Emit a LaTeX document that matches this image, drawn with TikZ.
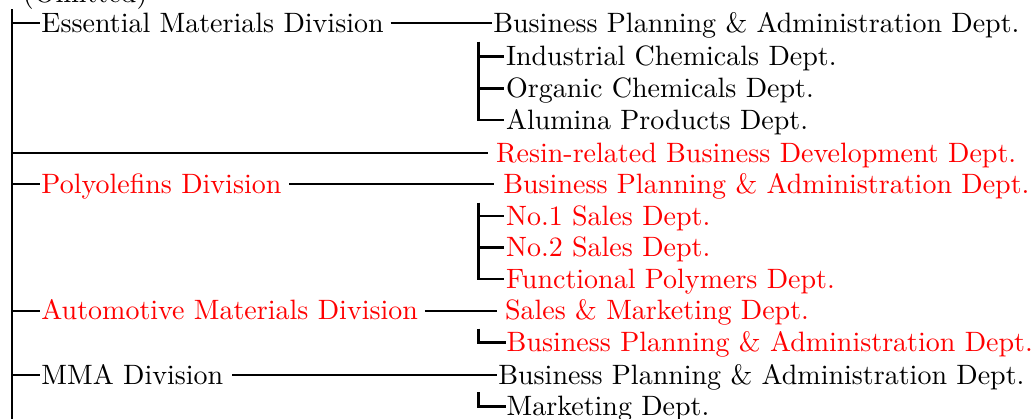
\documentclass[tikz,border=0pt]{standalone}
\usepackage{fontspec}
\setmainfont{lmroman10-regular}[Extension=.otf]
\definecolor{txtred}{RGB}{255,0,0}
\tikzset{
  lbl/.style={anchor=base west, inner sep=0pt, outer sep=0pt, font=\fontsize{28}{30}\selectfont},
  redlbl/.style={lbl, text=txtred},
  conn/.style={line width=2.2pt, line cap=butt, line join=miter},
}
\begin{document}
\begin{tikzpicture}[x=1pt,y=-1pt]
\useasboundingbox (0,0) rectangle (1034,418);
\clip (0,0) rectangle (1034,418);
% row lines
\coordinate (r1) at (0,23.3);
\coordinate (r2) at (0,56.5);
\coordinate (r3) at (0,88.5);
\coordinate (r4) at (0,120);
\coordinate (r5) at (0,153);
\coordinate (r6) at (0,184.3);
\coordinate (r7) at (0,216);
\coordinate (r8) at (0,247.5);
\coordinate (r9) at (0,279);
\coordinate (r10) at (0,310.7);
\coordinate (r11) at (0,342.5);
\coordinate (r12) at (0,375);
\coordinate (r13) at (0,406.5);
% texts
\node[lbl] (omit) at (23,2.5) {(Omitted)};
\node[lbl] (ess) at (41.5,32.3) {Essential Materials Division};
\node[lbl] (bpa1) at (493.3,32.3) {Business Planning \& Administration Dept.};
\node[lbl] (ind) at (506,65.5) {Industrial Chemicals Dept.};
\node[lbl] (org) at (506,97.5) {Organic Chemicals Dept.};
\node[lbl] (alu) at (506,129) {Alumina Products Dept.};
\node[redlbl] (resin) at (496,162) {Resin-related Business Development Dept.};
\node[redlbl] (poly) at (41.5,193.3) {Polyolefins Division};
\node[redlbl] (bpa2) at (503.3,193.3) {Business Planning \& Administration Dept.};
\node[redlbl] (no1) at (506,225) {No.1 Sales Dept.};
\node[redlbl] (no2) at (506,256.5) {No.2 Sales Dept.};
\node[redlbl] (fun) at (506,288) {Functional Polymers Dept.};
\node[redlbl] (auto) at (41.5,319.7) {Automotive Materials Division};
\node[redlbl] (sm) at (505,319.7) {Sales \& Marketing Dept.};
\node[redlbl] (bpa3) at (506.7,351.5) {Business Planning \& Administration Dept.};
\node[lbl] (mma) at (41.5,384) {MMA Division};
\node[lbl] (bpa4) at (498.3,384) {Business Planning \& Administration Dept.};
\node[lbl] (mkt) at (506.7,415.5) {Marketing Dept.};
% main trunk
\coordinate (mtop) at (12.3,9);
\coordinate (mbot) at (12.3,420);
\draw[conn] (mtop) -- (mbot);
\draw[conn] (mtop |- r1) -- ([xshift=-1.5pt]ess.west |- r1);
\draw[conn] (mtop |- r5) -- ([xshift=-7.7pt]resin.west |- r5);
\draw[conn] (mtop |- r6) -- ([xshift=-1.5pt]poly.west |- r6);
\draw[conn] (mtop |- r10) -- ([xshift=-1.5pt]auto.west |- r10);
\draw[conn] (mtop |- r12) -- ([xshift=-1.5pt]mma.west |- r12);
% division to first dept
\draw[conn] ([xshift=7pt]ess.east |- r1) -- ([xshift=-1pt]bpa1.west |- r1);
\draw[conn] ([xshift=8pt]poly.east |- r6) -- ([xshift=-9pt]bpa2.west |- r6);
\draw[conn] ([xshift=7pt]auto.east |- r10) -- ([xshift=-8.3pt]sm.west |- r10);
\draw[conn] ([xshift=9pt]mma.east |- r12) -- ([xshift=-1.6pt]bpa4.west |- r12);
% sub branches
\coordinate (sa) at (478.5,41.7);
\draw[conn] (sa) -- (sa |- r4) -- ([xshift=-2pt]alu.west |- r4);
\draw[conn] (sa |- r2) -- ([xshift=-2pt]ind.west |- r2);
\draw[conn] (sa |- r3) -- ([xshift=-2pt]org.west |- r3);
\coordinate (sb) at (478.5,202.5);
\draw[conn] (sb) -- (sb |- r9) -- ([xshift=-2pt]fun.west |- r9);
\draw[conn] (sb |- r7) -- ([xshift=-2pt]no1.west |- r7);
\draw[conn] (sb |- r8) -- ([xshift=-2pt]no2.west |- r8);
\coordinate (sc) at (478.5,328.5);
\draw[conn] (sc) -- (sc |- r11) -- ([xshift=-1pt]bpa3.west |- r11);
\coordinate (sd) at (478.5,392);
\draw[conn] (sd) -- (sd |- r13) -- ([xshift=-1pt]mkt.west |- r13);
\end{tikzpicture}
\end{document}
